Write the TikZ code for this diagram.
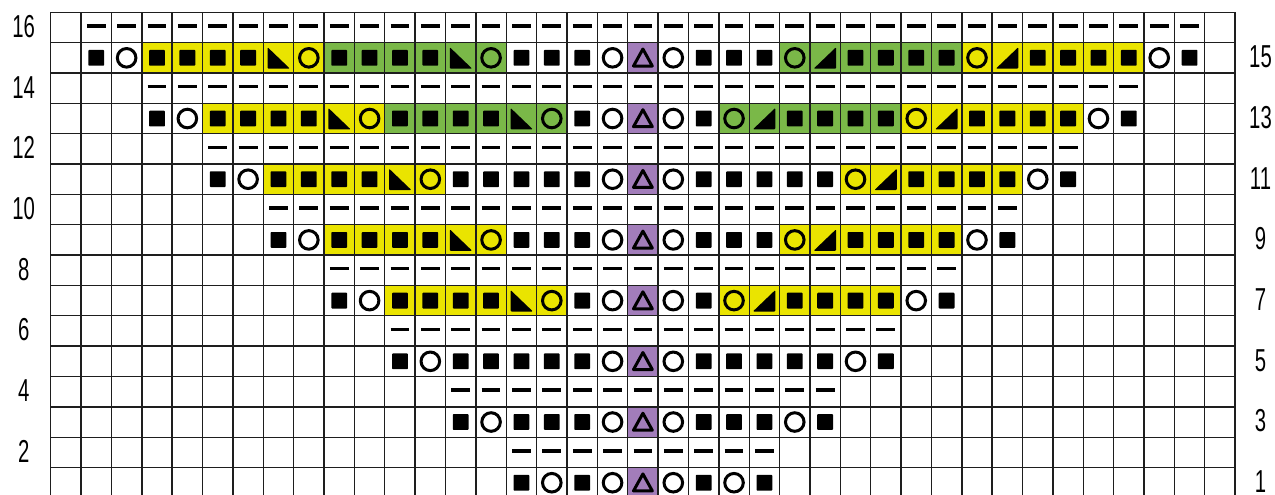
\documentclass[tikz,border=0pt]{standalone}
\usepackage{fontspec}
\setmainfont{Liberation Sans}
\usepackage{graphicx}
\definecolor{cyel}{RGB}{234,228,0}
\definecolor{cgrn}{RGB}{122,184,72}
\definecolor{cpur}{RGB}{162,125,186}
\definecolor{cgrid}{RGB}{30,30,30}
\tikzset{
 gridline/.style={cgrid, line width=1.05pt},
 lbl/.style={inner sep=0pt, font=\fontsize{23.8}{28}\selectfont},
 pics/ksq/.style={code={\fill[black, rounded corners=0.6pt] (-0.26,-0.26) rectangle (0.26,0.26);}},
 pics/kring/.style={code={\draw[black, line width=2.25pt] (0,0) circle[radius=0.306];}},
 pics/kdash/.style={code={\draw[black, line width=2.5pt] (-0.31,-0.05) -- (0.31,-0.05);}},
 pics/kl/.style={code={\fill[black, rounded corners=0.8pt] (-0.36,-0.35) -- (-0.36,0.36) -- (0.38,0.36) -- cycle;}},
 pics/kr/.style={code={\fill[black, rounded corners=0.8pt] (0.36,-0.35) -- (0.36,0.36) -- (-0.38,0.36) -- cycle;}},
 pics/ktri/.style={code={\draw[black, line width=2.25pt, line join=round] (0,-0.29) -- (0.31,0.27) -- (-0.31,0.27) -- cycle;}},
}
\begin{document}
\begin{tikzpicture}[x=0.75pt,y=-0.75pt]
\clip (0,0) rectangle (1275,495);
\fill[white] (0,0) rectangle (1275,495);
\begin{scope}[shift={(50.7,12.3)}, x=22.7775pt, y=-22.7625pt]
 % coloured cells
 \foreach \a/\b/\j in {4/9/1,31/36/1,6/11/3,29/34/3,8/13/5,27/32/5,10/15/7,25/30/7,12/17/9,23/28/9}
   \fill[cyel] (\a-1,\j) rectangle (\b,\j+1);
 \foreach \a/\b/\j in {10/15/1,25/30/1,12/17/3,23/28/3}
   \fill[cgrn] (\a-1,\j) rectangle (\b,\j+1);
 \foreach \j in {1,3,...,15}
   \fill[cpur] (19,\j) rectangle (20,\j+1);
 % grid
 \foreach \c in {0,...,39} \draw[gridline] (\c,0) -- (\c,16);
 \foreach \j in {0,...,16} \draw[gridline] (0,\j) -- (39,\j);
 % purl dashes on even rows
 \foreach \j in {0,2,...,14} {
   \pgfmathtruncatemacro\ca{2+\j}
   \pgfmathtruncatemacro\cb{38-\j}
   \foreach \c in {\ca,...,\cb} \pic at (\c-0.5,\j+0.5) {kdash};
 }
 % knit squares
 \foreach \j/\l in {
   1/{2,4,5,6,7,10,11,12,13,16,17,18,22,23,24,27,28,29,30,33,34,35,36,38},
   3/{4,6,7,8,9,12,13,14,15,18,22,25,26,27,28,31,32,33,34,36},
   5/{6,8,9,10,11,14,15,16,17,18,22,23,24,25,26,29,30,31,32,34},
   7/{8,10,11,12,13,16,17,18,22,23,24,27,28,29,30,32},
   9/{10,12,13,14,15,18,22,25,26,27,28,30},
   11/{12,14,15,16,17,18,22,23,24,25,26,28},
   13/{14,16,17,18,22,23,24,26},
   15/{16,18,22,24}}
   \foreach \c in \l \pic at (\c-0.5,\j+0.5) {ksq};
 % yarn overs
 \foreach \j/\l in {
   1/{3,9,15,19,21,25,31,37},
   3/{5,11,17,19,21,23,29,35},
   5/{7,13,19,21,27,33},
   7/{9,15,19,21,25,31},
   9/{11,17,19,21,23,29},
   11/{13,19,21,27},
   13/{15,19,21,25},
   15/{17,19,21,23}}
   \foreach \c in \l \pic at (\c-0.5,\j+0.5) {kring};
 % decreases
 \foreach \c/\j in {8/1,14/1,10/3,16/3,12/5,14/7,16/9}
   \pic at (\c-0.5,\j+0.5) {kl};
 \foreach \c/\j in {26/1,32/1,24/3,30/3,28/5,26/7,24/9}
   \pic at (\c-0.5,\j+0.5) {kr};
 \foreach \j in {1,3,...,15}
   \pic at (19.5,\j+0.5) {ktri};
\end{scope}
% row numbers
\foreach \r in {2,4,...,16}
  \node[lbl] (L\r) at (23.7,{26.5+(16-\r)*30.35}) {\scalebox{0.64}[1]{\r}};
\foreach \r in {1,3,...,15}
  \node[lbl] (R\r) at (1260.5,{26.5+(16-\r)*30.35}) {\scalebox{0.64}[1]{\r}};
\end{tikzpicture}
\end{document}
